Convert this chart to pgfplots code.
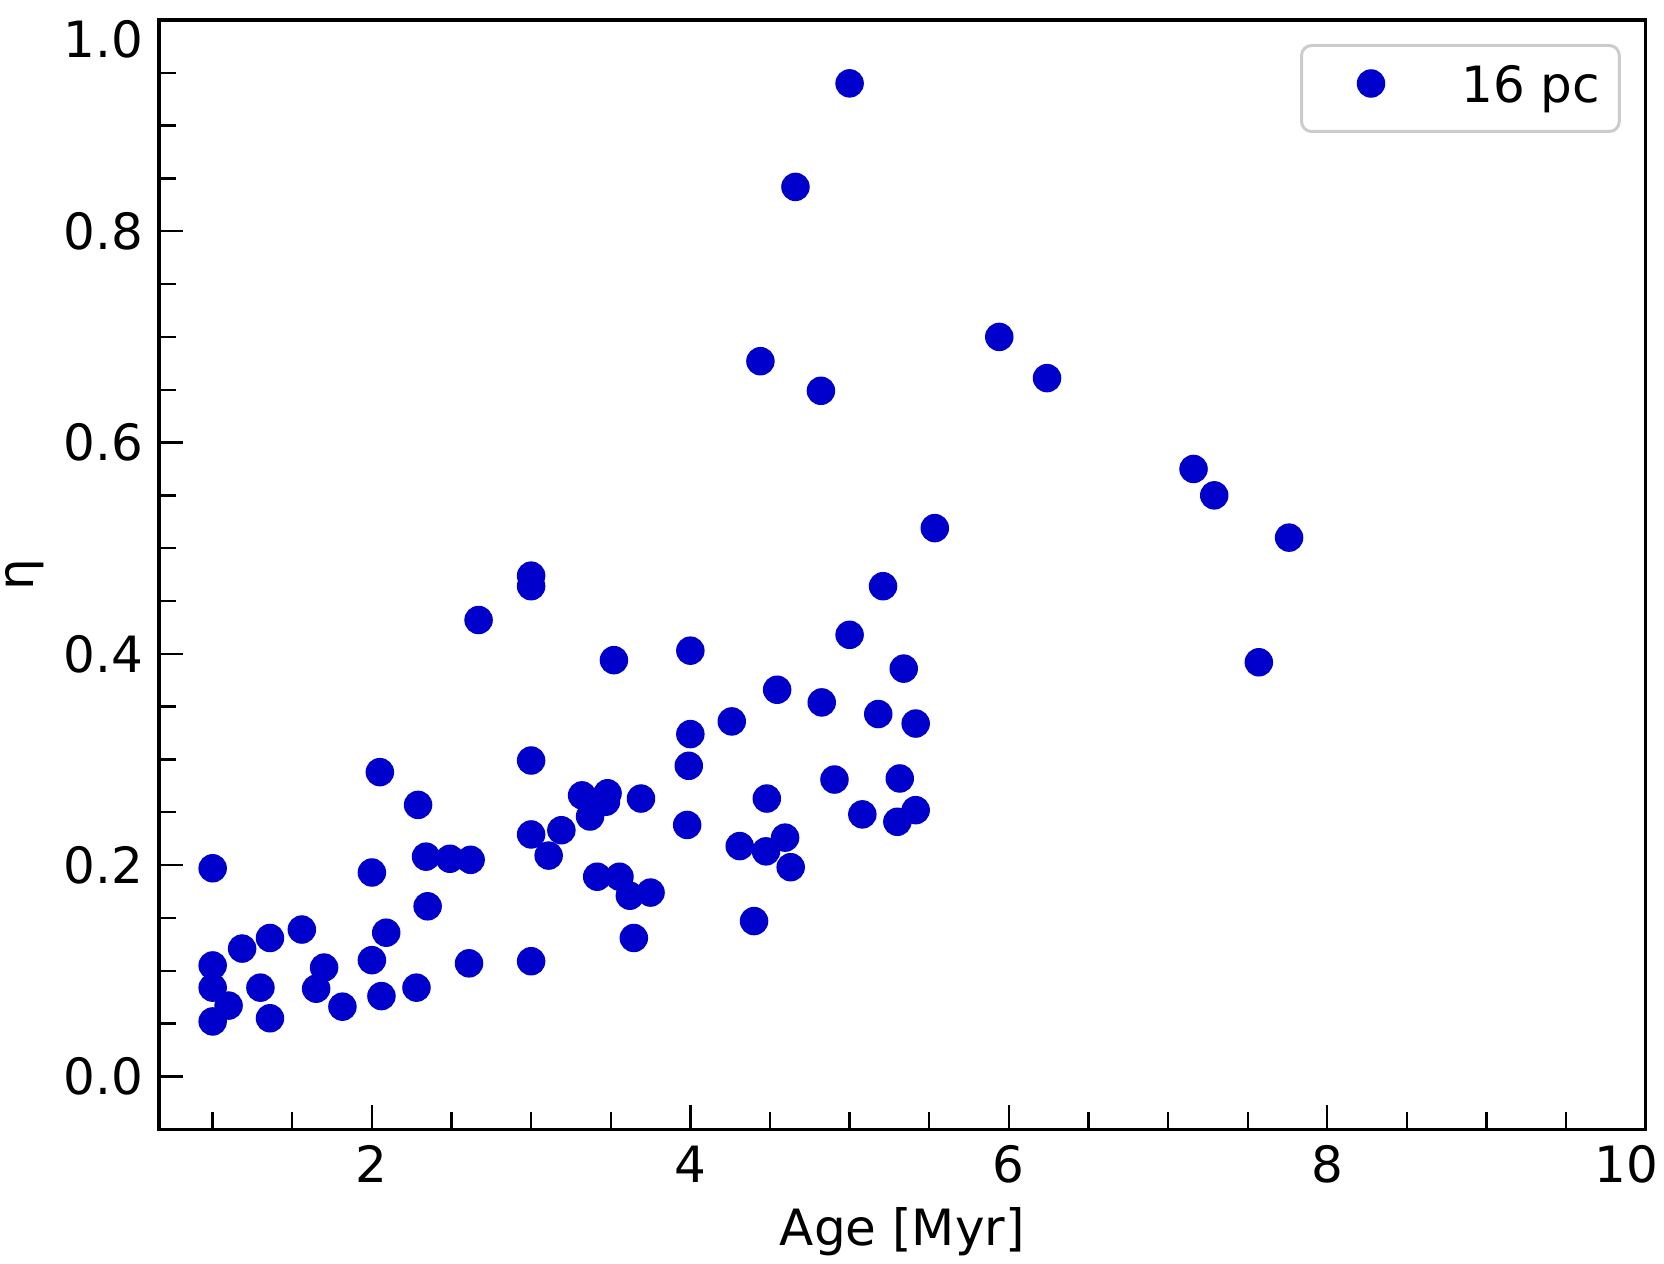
\documentclass[border=0pt]{standalone}
\usepackage{fontspec}
\setmainfont{DejaVu Sans}
\usepackage{pgfplots}
\pgfplotsset{compat=1.18}
\definecolor{mblue}{RGB}{0,0,205}
\definecolor{lgray}{RGB}{204,204,204}
\begin{document}
\fontsize{12.5}{15}\selectfont
\begin{tikzpicture}
\begin{axis}[
  scale only axis,
  width=371.7pt, height=277.3pt,
  xmin=0.663, xmax=10, ymin=-0.05, ymax=1.0,
  xtick={2,4,6,8},
  extra x ticks={10},
  extra x tick style={xticklabel style={xshift=-4.75pt}},
  minor xtick={1,1.5,2.5,3,3.5,4.5,5,5.5,6.5,7,7.5,8.5,9,9.5},
  ytick={0,0.2,0.4,0.6,0.8},
  extra y ticks={1.0},
  extra y tick style={yticklabel style={yshift=-4.75pt}},
  minor ytick={0.05,0.1,0.15,0.25,0.3,0.35,0.45,0.5,0.55,0.65,0.7,0.75,0.85,0.9,0.95},
  tick align=inside,
  tick pos=left,
  major tick length=6.1pt,
  minor tick length=4.2pt,
  every tick/.style={black, line width=0.58pt},
  axis line style={line width=0.83pt},
  /pgf/number format/assume math mode=true,
  yticklabel style={/pgf/number format/.cd, fixed, fixed zerofill, precision=1, /tikz/.cd, anchor=east, inner sep=0pt, xshift=-3.8pt},
  xticklabel style={anchor=north, inner sep=0pt, yshift=-3.9pt},
  xlabel={Age [Myr]},
  ylabel={η},
  every axis x label/.style={at={(axis description cs:0.5,-0.105)}, anchor=base},
  every axis y label/.style={at={(axis description cs:-0.0845,0.5)}, rotate=90, anchor=base},
  legend style={at={(rel axis cs:1,1)}, anchor=north east, xshift=-6.25pt, yshift=-6.0pt,
    draw=lgray, line width=0.75pt, rounded corners=2.5pt,
    inner xsep=4.8pt, inner ysep=0pt, column sep=0pt,
    nodes={inner sep=0pt, text height=14.2pt, text depth=7.3pt}},
  legend image code/.code={
    \path (-12.2pt,0pt) (22.2pt,0pt);
    \draw[#1, only marks] plot coordinates {(0pt,1.25pt)};
  },
]
\addplot[only marks, mark=*, mark size=3.41pt, mark options={fill=mblue, draw=mblue, line width=0.3pt}] coordinates {
(1.0,0.197) (1.0,0.105) (1.0,0.084) (1.0,0.052) (1.10,0.067) (1.185,0.121)
(1.30,0.084) (1.36,0.131) (1.36,0.055) (1.56,0.139) (1.65,0.083) (1.70,0.103)
(1.815,0.066) (2.0,0.193) (2.0,0.110) (2.05,0.288) (2.06,0.076) (2.09,0.136)
(2.29,0.257) (2.28,0.084) (2.34,0.208) (2.35,0.161) (2.49,0.206) (2.62,0.205)
(2.61,0.107) (2.67,0.432) (3.0,0.474) (3.0,0.464) (3.0,0.299) (3.0,0.229)
(3.0,0.109) (3.11,0.209) (3.19,0.233) (3.32,0.266) (3.37,0.246) (3.48,0.268)
(3.47,0.260) (3.52,0.394) (3.415,0.189) (3.555,0.189) (3.62,0.171) (3.75,0.174)
(3.69,0.263) (3.645,0.131) (4.0,0.403) (4.0,0.324) (3.99,0.294) (3.98,0.238)
(4.26,0.336) (4.31,0.218) (4.40,0.147) (4.44,0.677) (4.475,0.213) (4.48,0.263)
(4.545,0.366) (4.595,0.226) (4.63,0.198) (4.66,0.842) (4.82,0.649) (4.825,0.354)
(4.905,0.281) (5.0,0.940) (5.0,0.418) (5.08,0.248) (5.18,0.343) (5.21,0.464)
(5.30,0.241) (5.315,0.282) (5.34,0.386) (5.415,0.334) (5.415,0.252) (5.535,0.519)
(5.94,0.700) (6.24,0.661) (7.16,0.575) (7.29,0.550) (7.57,0.392) (7.76,0.510)
};
\addlegendentry{16 pc}
\end{axis}
\pgfresetboundingbox
\path (current axis.south west) ++(-39.75pt,-33.7pt) rectangle ++(416pt,316pt);
\end{tikzpicture}
\end{document}
